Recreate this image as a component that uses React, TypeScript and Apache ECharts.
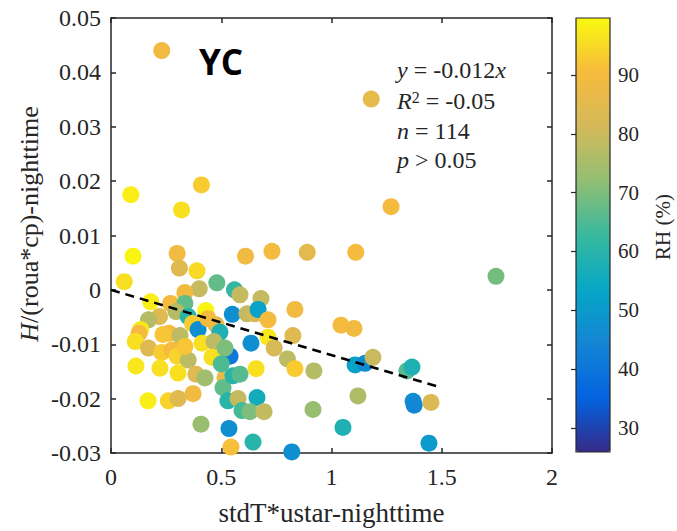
import React, { useEffect, useRef } from "react";
import * as echarts from "echarts";

// stdT*ustar (nighttime)
const stdTUstar = [
  0.23, 1.18, 0.09, 0.41, 0.32, 1.27, 0.10, 0.30, 0.31, 0.39,
  0.61, 0.73, 0.89, 1.11, 0.06, 0.40, 0.48, 0.56, 0.585, 0.68,
  0.335, 0.18, 0.27, 0.335, 0.295, 0.22, 0.17, 0.135, 0.127, 0.35,
  0.37, 0.395, 0.43, 0.476, 0.494, 0.55, 0.617, 0.653, 0.667, 0.712,
  0.834, 1.043, 1.102, 0.11, 0.17, 0.263, 0.313, 0.413, 0.467, 0.54,
  0.635, 0.712, 0.825, 0.74, 0.80, 0.23, 0.277, 0.30, 0.35, 0.458,
  0.113, 0.222, 0.304, 0.385, 0.426, 0.517, 0.508, 0.553, 0.658, 0.834,
  0.92, 1.107, 1.152, 1.188, 1.12, 1.052, 1.342, 1.365, 1.37, 1.375,
  1.451, 1.442, 1.746, 0.372, 0.168, 0.26, 0.304, 0.408, 0.535, 0.544,
  0.53, 0.576, 0.662, 0.594, 0.63, 0.694, 0.916, 0.644, 0.82, 0.44,
  0.517, 0.50, 0.335, 0.585, 0.236,
];

// H/(roua*cp) (nighttime)
const hNorm = [
  0.0440, 0.0351, 0.0175, 0.0193, 0.0147, 0.0153, 0.0062, 0.0067, 0.0040, 0.0035,
  0.0062, 0.0071, 0.0069, 0.0069, 0.0015, 0.0002, 0.0013, 0.0000, -0.0009, -0.0016,
  -0.0005, -0.0022, -0.0025, -0.0025, -0.0040, -0.0049, -0.0055, -0.0073, -0.0080, -0.0049,
  -0.0062, -0.0073, -0.0038, -0.0064, -0.0078, -0.0045, -0.0044, -0.0044, -0.0036, -0.0055,
  -0.0036, -0.0065, -0.0071, -0.0095, -0.0107, -0.0080, -0.0084, -0.0098, -0.0095, -0.0122,
  -0.0098, -0.0087, -0.0084, -0.0107, -0.0127, -0.0115, -0.0111, -0.0122, -0.0129, -0.0124,
  -0.0140, -0.0144, -0.0153, -0.0155, -0.0162, -0.0162, -0.0180, -0.0158, -0.0145, -0.0145,
  -0.0149, -0.0138, -0.0135, -0.0124, -0.0195, -0.0253, -0.0149, -0.0142, -0.0205, -0.0212,
  -0.0207, -0.0282, 0.0025, -0.0191, -0.0204, -0.0204, -0.0200, -0.0247, -0.0255, -0.0289,
  -0.0204, -0.0200, -0.0198, -0.0222, -0.0224, -0.0224, -0.0220, -0.0280, -0.0298, -0.0053,
  -0.0107, -0.0136, -0.0104, -0.0155, -0.0082,
];

// Relative humidity (%)
const rhPct = [
  89, 86, 98, 93, 96, 90, 99, 89, 84, 95,
  89, 90, 85, 90, 96, 79, 67, 62, 79, 79,
  89, 98, 90, 67, 77, 84, 77, 97, 90, 60,
  93, 47, 99, 84, 58, 47, 79, 82, 52, 90,
  89, 90, 89, 96, 84, 90, 78, 96, 78, 41,
  47, 97, 84, 82, 78, 93, 90, 94, 78, 96,
  97, 96, 96, 84, 74, 87, 67, 60, 96, 93,
  77, 52, 46, 80, 76, 58, 66, 58, 47, 45,
  83, 50, 69, 89, 98, 94, 84, 73, 47, 91,
  60, 79, 56, 64, 70, 79, 73, 60, 47, 90,
  70, 65, 92, 66, 92,
];

// Fitted line y = -0.012x
const fitX = [0, 1.5];
const fitY = [0, -0.018];

const rhTicks = [30, 40, 50, 60, 70, 80, 90];
const rhMin = 25.9;
const rhMax = 99.7;

const parulaColors = [
  "#352a87", "#0363e1", "#1485d4", "#06a7c6", "#38b99e",
  "#92bf73", "#d4b95a", "#f7bb3d", "#f9f90f",
];

const statLines = [
  "{i|y} = -0.012{i|x}",
  "{i|R}{sup|2} = -0.05",
  "{i|n} = 114",
  "{i|p} > 0.05",
];

const SERIF = "'Liberation Serif', 'Times New Roman', serif";
const AXC = "#262626";

export default function App() {
  const ref = useRef<HTMLDivElement>(null);
  useEffect(() => {
    if (!ref.current) return;
    const chart = echarts.init(ref.current, undefined, { renderer: "svg" });
    const scatterData = stdTUstar.map((x, i) => [x, hNorm[i], rhPct[i]]);
    const fitData = fitX.map((x, i) => [x, fitY[i]]);

    const statYs = [70, 101, 131, 160];
    const statGraphics = statLines.map((t, i) => ({
      type: "text",
      x: 397,
      y: statYs[i],
      z: 100,
      style: {
        text: t,
        fontFamily: SERIF,
        fontSize: 24,
        fill: AXC,
        align: "left",
        verticalAlign: "middle",
        rich: {
          i: { fontFamily: SERIF, fontSize: 24, fontStyle: "italic", fill: AXC },
          sup: { fontFamily: SERIF, fontSize: 16, fill: AXC, verticalAlign: "top" },
        },
      },
    }));

    const option: any = {
      animation: false,
      backgroundColor: "#ffffff",
      grid: [
        { left: 111, top: 18, width: 441, height: 440 },
        { left: 576, top: 18, width: 34, height: 434 },
      ],
      xAxis: [
        {
          type: "value",
          gridIndex: 0,
          min: 0,
          max: 2,
          interval: 0.5,
          position: "bottom",
          axisLine: { show: true, onZero: false, lineStyle: { color: AXC, width: 1.5 } },
          axisTick: { show: true, inside: true, length: 5, lineStyle: { color: AXC, width: 1.5 } },
          axisLabel: { color: AXC, fontFamily: SERIF, fontSize: 24, margin: 12 },
          splitLine: { show: false },
          name: "stdT*ustar-nighttime",
          nameLocation: "middle",
          nameGap: 46,
          nameTextStyle: { color: AXC, fontFamily: SERIF, fontSize: 27 },
        },
        {
          type: "value",
          gridIndex: 0,
          min: 0,
          max: 2,
          interval: 0.5,
          position: "top",
          axisLine: { show: true, onZero: false, lineStyle: { color: AXC, width: 1.5 } },
          axisTick: { show: true, inside: true, length: 5, lineStyle: { color: AXC, width: 1.5 } },
          axisLabel: { show: false },
          splitLine: { show: false },
        },
        { type: "value", gridIndex: 1, min: 0, max: 1, show: false },
      ],
      yAxis: [
        {
          type: "value",
          gridIndex: 0,
          min: -0.03,
          max: 0.05,
          interval: 0.01,
          position: "left",
          axisLine: { show: true, onZero: false, lineStyle: { color: AXC, width: 1.5 } },
          axisTick: { show: true, inside: true, length: 5, lineStyle: { color: AXC, width: 1.5 } },
          axisLabel: { color: AXC, fontFamily: SERIF, fontSize: 24, margin: 10 },
          splitLine: { show: false },
        },
        {
          type: "value",
          gridIndex: 0,
          min: -0.03,
          max: 0.05,
          interval: 0.01,
          position: "right",
          axisLine: { show: true, onZero: false, lineStyle: { color: AXC, width: 1.5 } },
          axisTick: { show: true, inside: true, length: 5, lineStyle: { color: AXC, width: 1.5 } },
          axisLabel: { show: false },
          splitLine: { show: false },
        },
        {
          type: "value",
          gridIndex: 1,
          min: rhMin,
          max: rhMax,
          position: "right",
          axisLine: { show: false },
          axisTick: {
            show: true,
            inside: true,
            length: 5,
            customValues: rhTicks,
            lineStyle: { color: AXC, width: 1.2 },
          },
          axisLabel: {
            show: true,
            customValues: rhTicks,
            color: AXC,
            fontFamily: SERIF,
            fontSize: 21,
            margin: 8,
          },
          splitLine: { show: false },
        },
      ],
      visualMap: {
        type: "continuous",
        seriesIndex: 0,
        dimension: 2,
        min: rhMin,
        max: rhMax,
        inRange: { color: parulaColors },
        show: true,
        calculable: false,
        hoverLink: false,
        left: 576,
        top: 18,
        padding: 0,
        itemWidth: 34,
        itemHeight: 434,
      },
      series: [
        {
          type: "scatter",
          xAxisIndex: 0,
          yAxisIndex: 0,
          data: scatterData,
          symbol: "circle",
          symbolSize: 17,
          itemStyle: { opacity: 1 },
          z: 2,
        },
        {
          type: "line",
          xAxisIndex: 0,
          yAxisIndex: 0,
          data: fitData,
          showSymbol: false,
          symbol: "none",
          lineStyle: { color: "#000000", width: 2.5, type: [9, 6] },
          z: 5,
        },
      ],
      graphic: [
        {
          type: "text",
          x: 199,
          y: 61,
          z: 100,
          style: {
            text: "YC",
            fontFamily: "'Open Sans', 'Liberation Sans', sans-serif",
            fontWeight: "bold",
            fontSize: 35,
            fill: "#000000",
            align: "left",
            verticalAlign: "middle",
          },
        },
        ...statGraphics,
        {
          type: "text",
          x: 29,
          y: 224,
          rotation: Math.PI / 2,
          z: 100,
          style: {
            text: "{i|H}/(roua*cp)-nighttime",
            fontFamily: SERIF,
            fontSize: 26,
            fill: AXC,
            align: "center",
            verticalAlign: "middle",
            rich: {
              i: { fontFamily: SERIF, fontSize: 26, fontStyle: "italic", fill: AXC },
            },
          },
        },
        {
          type: "text",
          x: 663,
          y: 227,
          rotation: Math.PI / 2,
          z: 100,
          style: {
            text: "RH (%)",
            fontFamily: SERIF,
            fontSize: 21,
            fill: AXC,
            align: "center",
            verticalAlign: "middle",
          },
        },
        {
          type: "rect",
          z: 100,
          shape: { x: 576, y: 18, width: 34, height: 434 },
          style: { fill: "none", stroke: AXC, lineWidth: 1.2 },
        },
      ],
    };
    chart.setOption(option);
    return () => chart.dispose();
  }, []);

  return (
    <div
      ref={ref}
      style={{ position: "fixed", left: 0, top: 0, width: 677, height: 531 }}
    />
  );
}
